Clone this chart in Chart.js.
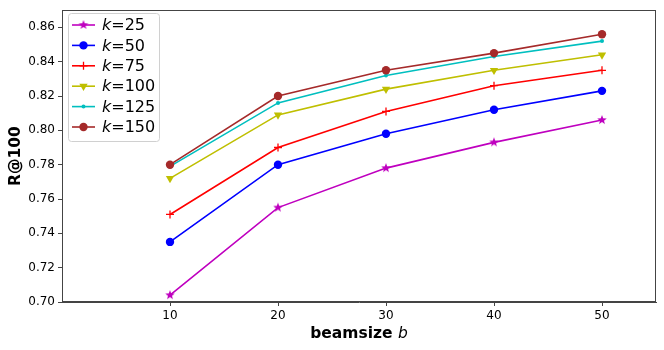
<!DOCTYPE html>
<html>
<head>
<meta charset="utf-8">
<script src="https://cdn.jsdelivr.net/npm/chart.js@4"></script>
<style>
  html, body { margin: 0; padding: 0; background: #fff; }
  #wrap { width: 664px; height: 350px; }
</style>
</head>
<body>
<div id="wrap"><canvas id="chart" width="664" height="350"></canvas></div>
<script>
// data
const beamSizes = [10, 20, 30, 40, 50];
const kLabels = ['25', '50', '75', '100', '125', '150'];
const recallK25 = [0.704, 0.755, 0.778, 0.793, 0.806];
const recallK50 = [0.735, 0.780, 0.798, 0.812, 0.823];
const recallK75 = [0.751, 0.790, 0.811, 0.826, 0.835];
const recallK100 = [0.772, 0.809, 0.824, 0.835, 0.844];
const recallK125 = [0.779, 0.816, 0.832, 0.843, 0.852];
const recallK150 = [0.780, 0.820, 0.835, 0.845, 0.856];
const xTicks = [10, 20, 30, 40, 50];
const yTicks = [0.70, 0.72, 0.74, 0.76, 0.78, 0.80, 0.82, 0.84, 0.86];

const FONT = 'DejaVu Sans';

// filled five point star like matplotlib '*'
function makeStar(color, r) {
    const size = Math.ceil(r * 2 + 2);
    const c = document.createElement('canvas');
    c.width = size; c.height = size;
    const g = c.getContext('2d');
    const cx = size / 2, cy = size / 2;
    g.beginPath();
    for (let i = 0; i < 10; i++) {
        const rad = i % 2 === 0 ? r : r * 0.42;
        const a = -Math.PI / 2 + i * Math.PI / 5;
        const px = cx + rad * Math.cos(a), py = cy + rad * Math.sin(a);
        if (i === 0) g.moveTo(px, py); else g.lineTo(px, py);
    }
    g.closePath();
    g.fillStyle = color;
    g.fill();
    return c;
}

const series = [
    { data: recallK25, color: '#bf00bf', style: makeStar('#bf00bf', 5), radius: 5, rot: 0 },
    { data: recallK50, color: '#0000ff', style: 'circle', radius: 4.2, rot: 0 },
    { data: recallK75, color: '#ff0000', style: 'cross', radius: 4, rot: 0 },
    { data: recallK100, color: '#bfbf00', style: 'triangle', radius: 4.8, rot: 180 },
    { data: recallK125, color: '#00bfbf', style: 'circle', radius: 2, rot: 0 },
    { data: recallK150, color: '#a52a2a', style: 'circle', radius: 4.2, rot: 0 }
];

const datasets = series.map((s, i) => ({
    label: 'k=' + kLabels[i],
    data: beamSizes.map((b, j) => ({ x: b, y: s.data[j] })),
    borderColor: s.color,
    backgroundColor: s.color,
    borderWidth: 1.6,
    pointStyle: s.style,
    pointRadius: s.radius,
    pointRotation: s.rot,
    pointBorderWidth: s.style === 'cross' ? 1.3 : 0,
    pointBorderColor: s.color,
    pointBackgroundColor: s.color,
    order: series.length - i,
    tension: 0
}));

function drawLegendPoint(ctx, s, x, y) {
    ctx.fillStyle = s.color;
    ctx.strokeStyle = s.color;
    ctx.lineWidth = s.style === 'cross' ? 1.3 : 0;
    Chart.helpers.drawPoint(ctx, {
        pointStyle: s.style,
        rotation: s.rot,
        radius: s.radius,
        borderWidth: s.style === 'cross' ? 1.3 : 0
    }, x, y);
}

// frame, axis titles and legend (italic k / italic b need mixed fonts)
const decorPlugin = {
    id: 'decor',
    afterDraw(chart) {
        const ctx = chart.ctx;
        const a = chart.chartArea;
        ctx.save();
        ctx.strokeStyle = '#444';
        ctx.lineWidth = 1;
        ctx.strokeRect(Math.round(a.left) + 0.5, Math.round(a.top) + 0.5,
            Math.round(a.right - a.left) - 1, Math.round(a.bottom - a.top) - 1);

        // x title
        ctx.fillStyle = '#000';
        ctx.textBaseline = 'alphabetic';
        const part1 = 'beamsize ', part2 = 'b';
        ctx.font = 'bold 15.5px "' + FONT + '"';
        const w1 = ctx.measureText(part1).width;
        ctx.font = 'italic 15.5px "' + FONT + '"';
        const w2 = ctx.measureText(part2).width;
        const cx = (a.left + a.right) / 2;
        const x0 = cx - (w1 + w2) / 2;
        ctx.font = 'bold 15.5px "' + FONT + '"';
        ctx.textAlign = 'left';
        ctx.fillText(part1, x0, 338);
        ctx.font = 'italic 15.5px "' + FONT + '"';
        ctx.fillText(part2, x0 + w1, 338);

        // y title
        ctx.save();
        ctx.translate(20, (a.top + a.bottom) / 2);
        ctx.rotate(-Math.PI / 2);
        ctx.font = 'bold 15.5px "' + FONT + '"';
        ctx.textAlign = 'center';
        ctx.fillText('R@100', 0, 0);
        ctx.restore();

        // legend box
        const bx = 68.5, by = 13.5, bw = 91, bh = 128, rr = 3;
        ctx.beginPath();
        ctx.moveTo(bx + rr, by);
        ctx.arcTo(bx + bw, by, bx + bw, by + bh, rr);
        ctx.arcTo(bx + bw, by + bh, bx, by + bh, rr);
        ctx.arcTo(bx, by + bh, bx, by, rr);
        ctx.arcTo(bx, by, bx + bw, by, rr);
        ctx.closePath();
        ctx.fillStyle = 'rgba(255,255,255,0.8)';
        ctx.fill();
        ctx.strokeStyle = '#d0d0d0';
        ctx.lineWidth = 1;
        ctx.stroke();

        series.forEach((s, i) => {
            const y = 25 + i * 20.4;
            ctx.strokeStyle = s.color;
            ctx.lineWidth = 1.6;
            ctx.beginPath();
            ctx.moveTo(72, y);
            ctx.lineTo(95, y);
            ctx.stroke();
            drawLegendPoint(ctx, s, 83.5, y);

            ctx.fillStyle = '#000';
            ctx.textBaseline = 'middle';
            ctx.textAlign = 'left';
            ctx.font = 'italic 16px "' + FONT + '"';
            ctx.fillText('k', 102, y + 1);
            const kw = ctx.measureText('k').width;
            ctx.font = '16px "' + FONT + '"';
            ctx.fillText('=' + kLabels[i], 102 + kw, y + 1);
        });
        ctx.restore();
    }
};

new Chart(document.getElementById('chart'), {
    type: 'line',
    data: { datasets: datasets },
    options: {
        responsive: false,
        animation: false,
        devicePixelRatio: 1,
        layout: { padding: { top: 7, right: 8, left: 0, bottom: 0 } },
        plugins: { legend: { display: false }, tooltip: { enabled: false } },
        scales: {
            x: {
                type: 'linear',
                min: 0,
                max: 55,
                afterBuildTicks: scale => { scale.ticks = xTicks.map(v => ({ value: v })); },
                afterFit: scale => { scale.height = 48; },
                grid: { drawOnChartArea: false, drawTicks: true, tickLength: 4, color: '#444' },
                border: { display: true, color: '#444' },
                ticks: {
                    padding: 3,
                    color: '#000',
                    font: { family: FONT, size: 12 },
                    maxRotation: 0,
                    callback: v => String(v)
                }
            },
            y: {
                type: 'linear',
                min: 0.70,
                max: 0.87,
                afterBuildTicks: scale => { scale.ticks = yTicks.map(v => ({ value: v })); },
                afterFit: scale => { scale.width = 62; },
                grid: { drawOnChartArea: false, drawTicks: true, tickLength: 4, color: '#444' },
                border: { display: true, color: '#444' },
                ticks: {
                    padding: 3,
                    color: '#000',
                    font: { family: FONT, size: 12 },
                    callback: v => v.toFixed(2)
                }
            }
        }
    },
    plugins: [decorPlugin]
});
</script>
</body>
</html>
